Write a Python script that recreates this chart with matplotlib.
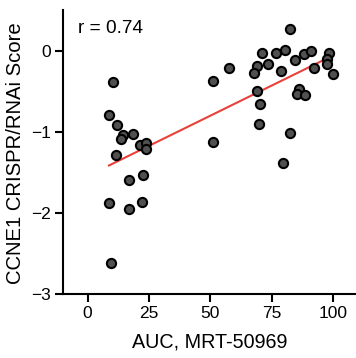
import matplotlib.pyplot as plt
import numpy as np

plt.rcParams["font.family"] = ["Liberation Sans", "DejaVu Sans"]

# AUC (MRT-50969) vs CCNE1 CRISPR/RNAi score
auc = [
    10.4, 8.7, 11.8, 14.5, 13.6, 18.3, 21.3, 23.7, 23.7, 11.4,
    16.9, 22.4, 8.7, 16.9, 22.1, 9.5,
    51.2, 50.9, 57.6, 82.4, 71.1, 76.7, 80.5, 68.8, 67.9, 73.4,
    78.6, 84.3, 88.1, 91.0, 98.4, 97.4, 97.4, 92.2, 100.0, 68.8,
    70.2, 69.9, 85.9, 85.4, 88.4, 82.3, 79.7,
]
score = [
    -0.39, -0.79, -0.92, -1.04, -1.09, -1.03, -1.16, -1.14, -1.21, -1.29,
    -1.60, -1.53, -1.88, -1.95, -1.87, -2.62,
    -0.38, -1.13, -0.22, 0.26, -0.03, -0.03, 0.01, -0.19, -0.28, -0.17,
    -0.25, -0.11, -0.04, -0.01, -0.03, -0.10, -0.16, -0.22, -0.29, -0.50,
    -0.66, -0.91, -0.47, -0.54, -0.55, -1.01, -1.39,
]
r_label = "r = 0.74"

x = np.asarray(auc)
y = np.asarray(score)

fig = plt.figure(figsize=(3.56, 3.58), dpi=100)
ax = fig.add_axes([0.177, 0.179, 0.823, 0.793])

# least-squares fit line over the data range
slope, intercept = np.polyfit(x, y, 1)
xs = np.array([x.min(), x.max()])
ax.plot(xs, slope * xs + intercept, color="#e8413c", linewidth=1.5, zorder=2)

ax.scatter(x, y, s=44, facecolor="#505050", edgecolor="black",
           linewidths=1.5, zorder=3)

ax.text(0.05, 0.965, r_label, transform=ax.transAxes, fontsize=13.7,
        va="top", ha="left")

ax.set_xlim(-10, 109.3)
ax.set_ylim(-3, 0.5)
ax.set_xticks([0, 25, 50, 75, 100])
ax.set_yticks([-3, -2, -1, 0])
ax.set_xlabel("AUC, MRT-50969", fontsize=14.2)
ax.set_ylabel("CCNE1 CRISPR/RNAi Score", fontsize=14.6)
ax.yaxis.set_label_coords(-0.13, 0.495)
ax.xaxis.set_label_coords(0.5, -0.135)

for side in ("top", "right"):
    ax.spines[side].set_visible(False)
for side in ("left", "bottom"):
    ax.spines[side].set_linewidth(1.5)
ax.tick_params(direction="out", length=5.5, width=1.5, labelsize=12.5)

fig.savefig("out.png", dpi=100)
